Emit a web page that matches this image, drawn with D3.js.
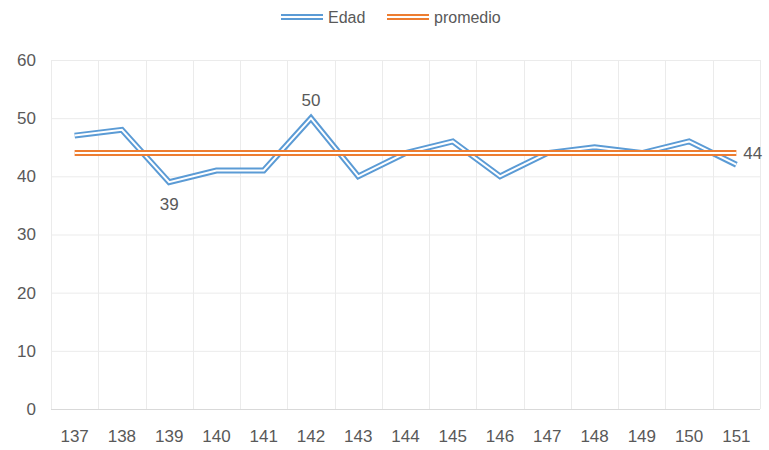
<!DOCTYPE html>
<html>
<head>
<meta charset="utf-8">
<script src="https://cdn.jsdelivr.net/npm/d3@7"></script>
<style>
  body { margin: 0; background: #fff; }
  svg text { font-family: "Liberation Sans", "Noto Sans", sans-serif; fill: #595959; }
</style>
</head>
<body>
<script>
// data
var categories = ["137", "138", "139", "140", "141", "142", "143", "144", "145", "146", "147", "148", "149", "150", "151"];
var edad = [47, 48, 39, 41, 41, 50, 40, 44, 46, 40, 44, 45, 44, 46, 42];
var promedio = [44, 44, 44, 44, 44, 44, 44, 44, 44, 44, 44, 44, 44, 44, 44];
var yTicks = [0, 10, 20, 30, 40, 50, 60];
// labelled points: [series, index]
var labelled = [["edad", 2, "below"], ["edad", 5, "above"], ["promedio", 14, "right"]];

var width = 769,
    height = 450,
    margin = {top: 60, right: 9, bottom: 41, left: 51};

var x = d3.scaleBand().domain(categories).range([margin.left, width - margin.right]),
    y = d3.scaleLinear().domain([0, 60]).range([height - margin.bottom, margin.top]);

var svg = d3.select("body").append("svg")
    .attr("width", width)
    .attr("height", height);

// horizontal grid
svg.append("g")
    .selectAll("line")
    .data(yTicks)
    .enter().append("line")
    .attr("x1", margin.left).attr("x2", width - margin.right)
    .attr("y1", function(d) { return y(d) + 0.5; })
    .attr("y2", function(d) { return y(d) + 0.5; })
    .attr("stroke", function(d) { return d === 0 ? "#d9d9d9" : "#ebebeb"; })
    .attr("stroke-width", 1);

// vertical grid at category boundaries
var bounds = categories.map(function(c) { return x(c); }).concat([x.range()[1]]);
svg.append("g")
    .selectAll("line")
    .data(bounds)
    .enter().append("line")
    .attr("x1", function(d) { return Math.round(d) + 0.5; })
    .attr("x2", function(d) { return Math.round(d) + 0.5; })
    .attr("y1", y(60)).attr("y2", y(0))
    .attr("stroke", "#ebebeb");

// y labels
svg.append("g")
    .selectAll("text")
    .data(yTicks)
    .enter().append("text")
    .attr("x", 36)
    .attr("y", function(d) { return y(d); })
    .attr("dy", "0.35em")
    .attr("text-anchor", "end")
    .style("font-size", "17px")
    .text(function(d) { return d; });

// x labels
svg.append("g")
    .selectAll("text")
    .data(categories)
    .enter().append("text")
    .attr("x", function(d) { return x(d) + x.bandwidth() / 2; })
    .attr("y", 442)
    .attr("text-anchor", "middle")
    .style("font-size", "17px")
    .text(function(d) { return d; });

var line = d3.line()
    .x(function(d, i) { return x(categories[i]) + x.bandwidth() / 2; })
    .y(function(d) { return y(d); });

// double (compound) line: thick colour stroke with thin white core
function doubleLine(values, color) {
    var g = svg.append("g");
    g.append("path")
        .attr("d", line(values))
        .attr("fill", "none")
        .attr("stroke", color)
        .attr("stroke-width", 6);
    g.append("path")
        .attr("d", line(values))
        .attr("fill", "none")
        .attr("stroke", "#fff")
        .attr("stroke-width", 2);
}

doubleLine(edad, "#5b9bd5");
doubleLine(promedio, "#ed7d31");

// data labels
var series = {edad: edad, promedio: promedio};
svg.append("g")
    .selectAll("text")
    .data(labelled)
    .enter().append("text")
    .attr("x", function(d) {
        var cx = x(categories[d[1]]) + x.bandwidth() / 2;
        return d[2] === "right" ? cx + 7 : cx;
    })
    .attr("y", function(d) {
        var cy = y(series[d[0]][d[1]]);
        if (d[2] === "below") return cy + 28;
        if (d[2] === "above") return cy - 12;
        return cy + 6;
    })
    .attr("text-anchor", function(d) { return d[2] === "right" ? "start" : "middle"; })
    .style("font-size", "17px")
    .text(function(d) { return Math.round(series[d[0]][d[1]]); });

// legend
var legend = [{name: "Edad", color: "#5b9bd5", x: 281}, {name: "promedio", color: "#ed7d31", x: 387}];
var lg = svg.append("g").selectAll("g")
    .data(legend)
    .enter().append("g")
    .attr("transform", function(d) { return "translate(" + d.x + ",17)"; });
lg.append("line")
    .attr("x1", 0).attr("x2", 42)
    .attr("stroke", function(d) { return d.color; })
    .attr("stroke-width", 6);
lg.append("line")
    .attr("x1", 0).attr("x2", 42)
    .attr("stroke", "#fff")
    .attr("stroke-width", 2);
lg.append("text")
    .attr("x", 47)
    .attr("dy", "0.35em")
    .style("font-size", "16px")
    .text(function(d) { return d.name; });
</script>
</body>
</html>
